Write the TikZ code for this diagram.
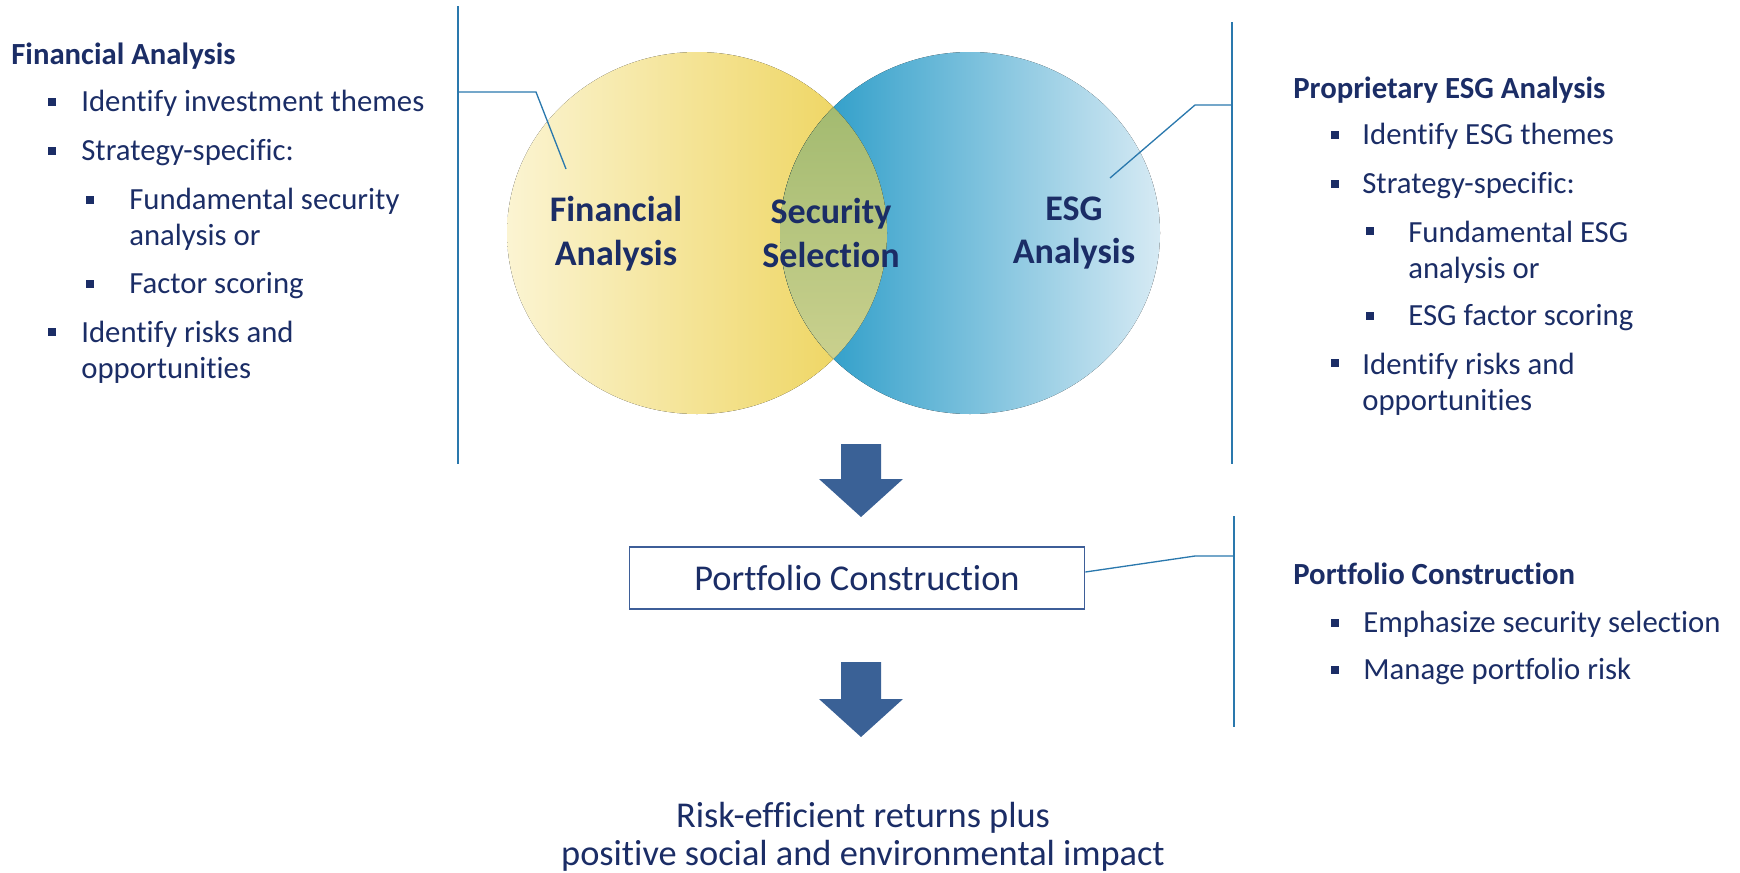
\documentclass[tikz,border=0pt]{standalone}
\usepackage{fontspec}
\setmainfont{Carlito}[Ligatures={NoCommon}]
\usepackage{xcolor}
\usetikzlibrary{positioning}

\definecolor{navy}{HTML}{1B2D66}
\definecolor{linkblue}{HTML}{2A78AD}
\definecolor{arrowblue}{HTML}{3A6196}
\definecolor{boxblue}{HTML}{3E5E98}
\definecolor{yelpale}{HTML}{FBF4D2}
\definecolor{yeldeep}{HTML}{EDD255}
\definecolor{bluedeep}{HTML}{1B95C4}
\definecolor{bluepale}{HTML}{D6EAF4}
\definecolor{greentop}{HTML}{9BB66A}
\definecolor{greenbot}{HTML}{D2D594}

\begin{document}
\begin{tikzpicture}[
    x=0.02cm, y=-0.02cm,
    listtext/.style={inner sep=0pt, text=navy, align=left,
                     font=\fontsize{17.5}{20.5}\selectfont},
    head/.style={listtext, anchor=mid west, yshift=-0.11cm,
                 font=\fontsize{17.5}{20.5}\selectfont\bfseries},
    item/.style={listtext, anchor=mid west, yshift=-0.11cm},
    item2/.style={listtext, anchor=west, yshift=-0.04cm},
    bul/.style={rectangle, fill=navy, inner sep=0pt, minimum size=0.16cm},
    circlabel/.style={align=center, inner sep=0pt, text=navy,
                      font=\fontsize{20.5}{25}\selectfont\bfseries},
    callout/.style={draw=linkblue, line width=0.75pt},
    divider/.style={draw=linkblue, line width=0.9pt},
    blockarrow/.style={fill=arrowblue},
    pcbox/.style={draw=boxblue, line width=1pt, text=navy,
                  minimum width=9.1cm, minimum height=1.24cm,
                  font=\fontsize{20.7}{24}\selectfont}
]
\useasboundingbox (0,0) rectangle (1740,872);

% Venn circles
\fill[left color=yelpale, right color=yeldeep] (697,233) ellipse [x radius=190, y radius=181];
\fill[left color=bluedeep, right color=bluepale] (970,233) ellipse [x radius=190, y radius=181];
\begin{scope}
    \clip (697,233) ellipse [x radius=190, y radius=181];
    \fill[top color=greentop, bottom color=greenbot] (970,233) ellipse [x radius=190, y radius=181];
\end{scope}

\node[circlabel] (fin) at (616,234) {Financial\\Analysis};
\node[circlabel] (sec) at (831,233) {Security\\Selection};
\node[circlabel] (esg) at (1074,233) {ESG\\Analysis};

% Dividers and callouts
\coordinate (ltop) at (458,6);
\coordinate (lbot) at (458,464);
\coordinate (rtop) at (1232,22);
\coordinate (rbot) at (1232,464);
\coordinate (rtop2) at (1234,516);
\coordinate (rbot2) at (1234,727);
\draw[divider] (ltop) -- (lbot);
\draw[divider] (rtop) -- (rbot);
\draw[divider] (rtop2) -- (rbot2);

\coordinate (finpt) at (566,169);
\coordinate (esgpt) at (1110,178);
\draw[callout] (458,92) -- (536,92) -- (finpt);
\draw[callout] (1232,105) -- (1195,105) -- (esgpt);

% Left: financial analysis
\node[head] (fahead) at (11,55) {Financial Analysis};
\node[bul] (fab1) at (52,102) {};
\node[item] (fa1) at (81,102) {Identify investment themes};
\node[bul] (fab2) at (52,151) {};
\node[item] (fa2) at (81,151) {Strategy-specific:};
\node[bul] (fab3) at (90,200) {};
\node[item2] (fa3) at (129,217.5) {Fundamental security\\analysis or};
\node[bul] (fab4) at (90,284) {};
\node[item] (fa4) at (129,284) {Factor scoring};
\node[bul] (fab5) at (52,332) {};
\node[item2] (fa5) at (81,350.5) {Identify risks and\\opportunities};

% Right: ESG analysis
\node[head] (eshead) at (1293,89) {Proprietary ESG Analysis};
\node[bul] (esb1) at (1335,135) {};
\node[item] (es1) at (1362,135) {Identify ESG themes};
\node[bul] (esb2) at (1335,184) {};
\node[item] (es2) at (1362,184) {Strategy-specific:};
\node[bul] (esb3) at (1370,231) {};
\node[item2] (es3) at (1408,250) {Fundamental ESG\\analysis or};
\node[bul] (esb4) at (1370,316) {};
\node[item] (es4) at (1408,316) {ESG factor scoring};
\node[bul] (esb5) at (1335,363) {};
\node[item2] (es5) at (1362,382) {Identify risks and\\opportunities};

% Down arrows
\fill[blockarrow] (841,444) -- (881,444) -- (881,479) -- (903,479) -- (861,517)
    -- (819,479) -- (841,479) -- cycle;
\fill[blockarrow] (841,662) -- (881,662) -- (881,699) -- (903,699) -- (861,737)
    -- (819,699) -- (841,699) -- cycle;

% Portfolio construction
\node[pcbox] (pc) at (857,578) {Portfolio Construction};
\draw[callout] ([yshift=0.12cm]pc.east) -- (1195,556) -- (1234,556);

\node[head] (pchead) at (1293,575) {Portfolio Construction};
\node[bul] (pcb1) at (1335,623) {};
\node[item] (pc1) at (1363,623) {Emphasize security selection};
\node[bul] (pcb2) at (1335,670) {};
\node[item] (pc2) at (1363,670) {Manage portfolio risk};

% Outcome
\node[align=center, inner sep=0pt, text=navy, font=\fontsize{20.7}{21.5}\selectfont]
    (result) at (863,837) {Risk-efficient returns plus\\positive social and environmental impact};

\end{tikzpicture}
\end{document}
